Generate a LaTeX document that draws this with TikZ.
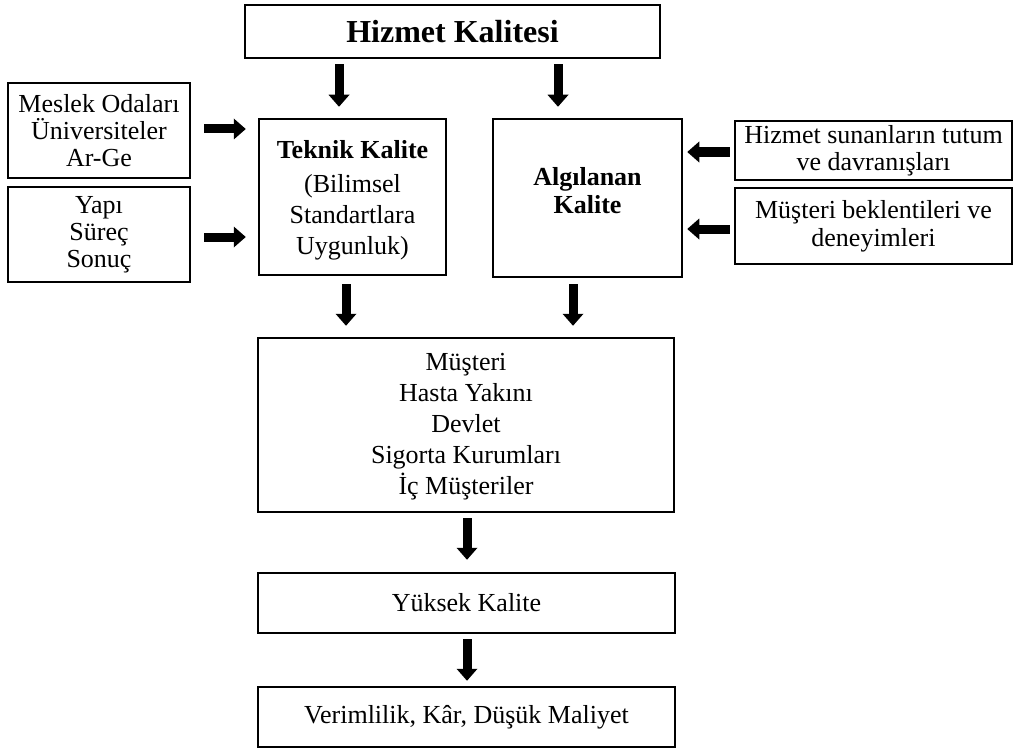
\documentclass[tikz,border=0pt]{standalone}
\usepackage{fontspec}
\setmainfont{Liberation Serif}
\usetikzlibrary{arrows.meta}

\tikzset{
  box/.style={draw=black, line width=2.5pt, rectangle, inner sep=2pt, align=center,
              font=\fontsize{26}{27}\selectfont},
  blk/.style={line width=9pt,
              -{Triangle[length=12pt,width=21pt,line width=0pt]}},
}

\begin{document}
\begin{tikzpicture}[x=1pt, y=-1pt]
  \useasboundingbox (0,0) rectangle (1017,749);

  % main heading
  \node[box, minimum width=415pt, minimum height=53pt,
        font=\fontsize{32}{34}\selectfont\bfseries] (title) at (452.5,31.5) {Hizmet Kalitesi};

  % left inputs
  \node[box, minimum width=182pt, minimum height=95pt] (meslek) at (99,130.5)
       {Meslek Odaları\\Üniversiteler\\Ar-Ge};
  \node[box, minimum width=182pt, minimum height=95pt] (yapi) at (99,234.5)
       {Yapı\\Süreç\\Sonuç};

  % the two quality dimensions
  \node[box, minimum width=187pt, minimum height=156pt,
        font=\fontsize{26}{31}\selectfont] (teknik) at (352.5,197) {};
  \node[align=center, font=\fontsize{26}{31}\selectfont]
       at ([yshift=-3pt]teknik.center)
       {\textbf{Teknik Kalite}\\[3pt](Bilimsel\\Standartlara\\Uygunluk)};
  \node[box, minimum width=189pt, minimum height=158pt] (algi) at (587.5,198) {};
  \node[align=center, font=\fontsize{26}{28}\selectfont\bfseries]
       at ([yshift=7pt]algi.center) {Algılanan\\Kalite};

  % right inputs
  \node[box, minimum width=277pt, minimum height=59pt] (sunan) at (873.5,150.5)
       {Hizmet sunanların tutum\\ve davranışları};
  \node[box, minimum width=277pt, minimum height=76pt, font=\fontsize{26}{28}\selectfont] (bek) at (873.5,226)
       {Müşteri beklentileri ve\\deneyimleri};

  % stakeholders and outcomes
  \node[box, minimum width=416pt, minimum height=174pt,
        font=\fontsize{26}{31}\selectfont] (musteri) at (466,425) {};
  \node[align=center, font=\fontsize{26}{31}\selectfont]
       at ([yshift=-2pt]musteri.center)
       {Müşteri\\Hasta Yakını\\Devlet\\Sigorta Kurumları\\İç Müşteriler};
  \node[box, minimum width=417pt, minimum height=60pt] (yuksek) at (466.5,603) {Yüksek Kalite};
  \node[box, minimum width=417pt, minimum height=60pt] (verim) at (466.5,717)
       {Verimlilik, Kâr, Düşük Maliyet};

  % block arrows
  \draw[blk, shorten <=5pt, shorten >=11pt]
    ([xshift=-13.5pt]teknik.north |- title.south) -- ([xshift=-13.5pt]teknik.north);
  \draw[blk, shorten <=5pt, shorten >=11pt]
    ([xshift=-29.5pt]algi.north |- title.south) -- ([xshift=-29.5pt]algi.north);

  \draw[blk, shorten <=13pt, shorten >=12pt]
    ([yshift=1.5pt]meslek.east) -- ([yshift=1.5pt]meslek.east -| teknik.west);
  \draw[blk, shorten <=13pt, shorten >=12pt]
    ([yshift=-2.5pt]yapi.east) -- ([yshift=-2.5pt]yapi.east -| teknik.west);

  \draw[blk, shorten <=4pt, shorten >=4pt]
    ([yshift=-1.5pt]sunan.west) -- ([yshift=-1.5pt]sunan.west -| algi.east);
  \draw[blk, shorten <=4pt, shorten >=4pt]
    ([yshift=-3pt]bek.west) -- ([yshift=-3pt]bek.west -| algi.east);

  \draw[blk, shorten <=8pt, shorten >=11pt]
    ([xshift=-6.5pt]teknik.south) -- ([xshift=-6.5pt]teknik.south |- musteri.north);
  \draw[blk, shorten <=6pt, shorten >=11pt]
    ([xshift=-14.5pt]algi.south) -- ([xshift=-14.5pt]algi.south |- musteri.north);

  \draw[blk, shorten <=5pt, shorten >=12pt]
    ([xshift=1pt]musteri.south) -- ([xshift=1pt]musteri.south |- yuksek.north);
  \draw[blk, shorten <=5pt, shorten >=5pt]
    ([xshift=0.5pt]yuksek.south) -- ([xshift=0.5pt]yuksek.south |- verim.north);
\end{tikzpicture}
\end{document}
